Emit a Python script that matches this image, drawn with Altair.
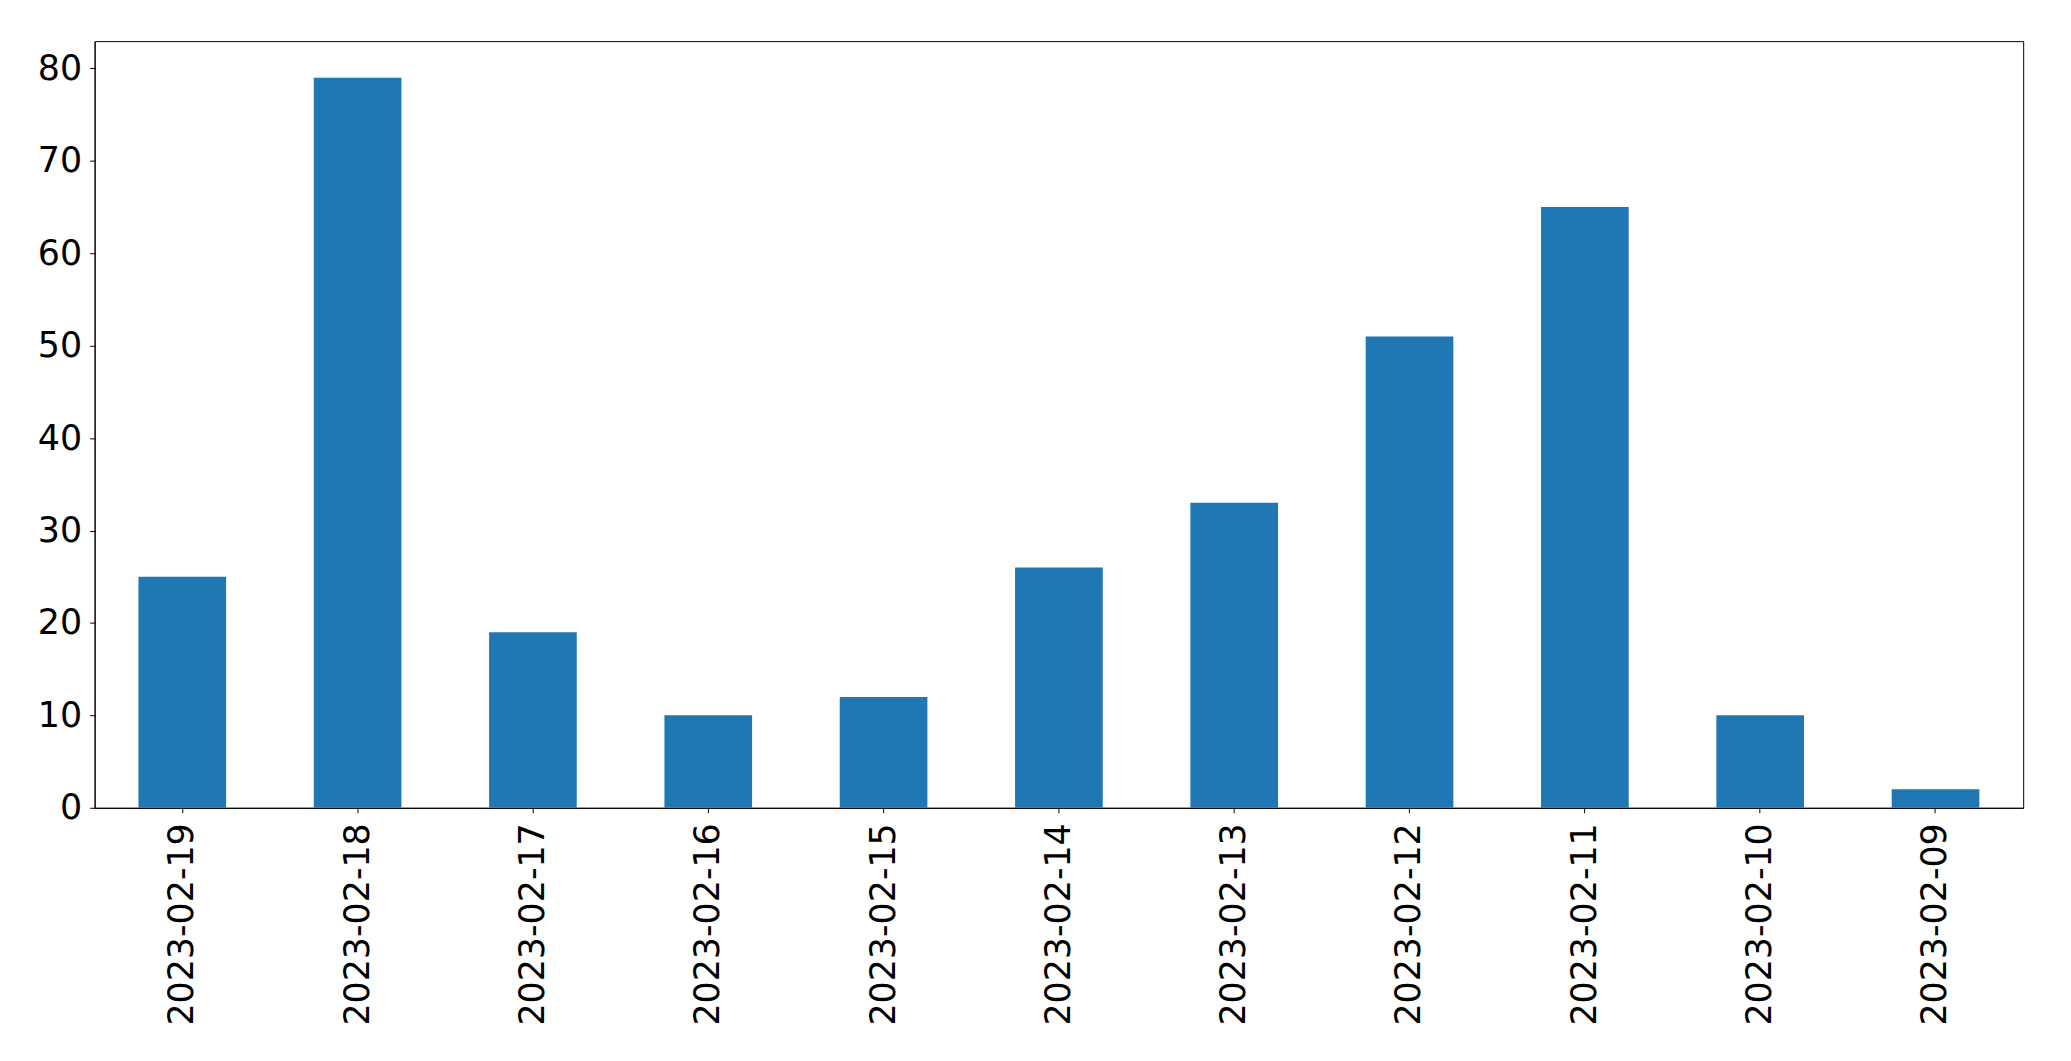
import altair as alt
import pandas as pd

dates = ["2023-02-19", "2023-02-18", "2023-02-17", "2023-02-16", "2023-02-15",
         "2023-02-14", "2023-02-13", "2023-02-12", "2023-02-11", "2023-02-10",
         "2023-02-09"]
counts = [25, 79, 19, 10, 12, 26, 33, 51, 65, 10, 2]
y_ticks = [0, 10, 20, 30, 40, 50, 60, 70, 80]

df = pd.DataFrame({"date": dates, "count": counts})

FONT = "DejaVu Sans"

chart = alt.Chart(df).mark_bar(color="#1f77b4").encode(
    x=alt.X("date:N", sort=dates, title=None,
            scale=alt.Scale(paddingInner=0.5, paddingOuter=0.25),
            axis=alt.Axis(labelAngle=-90, labelFontSize=35, labelPadding=10,
                          labelLimit=0,
                          tickSize=5, tickColor="black", domainColor="black",
                          labelColor="black", labelFont=FONT)),
    y=alt.Y("count:Q", title=None,
            scale=alt.Scale(domain=[0, 82.95], nice=False, zero=True),
            axis=alt.Axis(values=y_ticks, labelFontSize=35, labelPadding=8,
                          tickSize=5, tickColor="black", domainColor="black",
                          labelColor="black", labelFont=FONT, grid=False)),
).properties(
    width=1937,
    height=770,
    autosize=alt.AutoSizeParams(type="none"),
    padding={"left": 87, "top": 31, "right": 40, "bottom": 244},
).configure_view(
    stroke="black", strokeWidth=1
).configure_axis(
    domainWidth=1, tickWidth=1
)

chart.save("out.html", embed_options={"renderer": "svg", "actions": False})
